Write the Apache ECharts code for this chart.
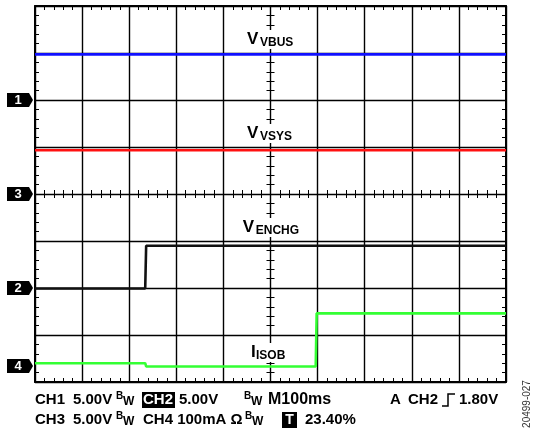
<!DOCTYPE html>
<html>
<head>
<meta charset="utf-8">
<script src="https://cdn.jsdelivr.net/npm/echarts@6/dist/echarts.min.js"></script>
<style>html,body{margin:0;padding:0;background:#fff}#c{width:534px;height:435px}</style>
</head>
<body>
<div id="c"></div>
<script>
// time axis in ms (100 ms/div, 10 divisions); vertical axis in divisions (8 divisions)
const timeTicks = [0, 100, 200, 300, 400, 500, 600, 700, 800, 900, 1000];
const divTicks = [0, 1, 2, 3, 4, 5, 6, 7, 8];
const vbusTrace = [[0, 6.97], [1000, 6.97]];
const vsysTrace = [[0, 4.93], [1000, 4.93]];
const enchgTrace = [[0, 1.99], [234, 1.99], [236, 2.90], [1000, 2.90]];
const isobTrace = [[0, 0.40], [234, 0.40], [236, 0.33], [596, 0.33], [598, 1.46], [1000, 1.46]];
const channelMarkers = [['1', 6], ['3', 4], ['2', 2], ['4', 0.34]];
const traceLabels = [['V', 'VBUS', 500, 7.30], ['V', 'VSYS', 500, 5.30], ['V', 'ENCHG', 500, 3.30], ['I', 'ISOB', 500, 0.64]];

const chart = echarts.init(document.getElementById('c'), null, {renderer: 'canvas'});
const F = 'Liberation Sans, Arial, sans-serif';
const G = {left: 35, top: 6, width: 471, height: 376};

function xAx(pos, offset, inside, isMain) {
  return {
    type: 'value', min: 0, max: 1000, interval: 100, position: pos, offset: offset,
    axisLine: {show: isMain, onZero: false, lineStyle: {color: '#000', width: 2}},
    axisTick: {show: true, inside: inside, length: 4, lineStyle: {color: '#000', width: 1}},
    minorTick: {show: true, splitNumber: 5, length: 4, lineStyle: {color: '#000', width: 1}},
    splitLine: {show: pos === 'bottom' && offset === 0, lineStyle: {color: '#000', width: 1.4}},
    axisLabel: {show: false}
  };
}
function yAx(pos, offset, inside, isMain) {
  return {
    type: 'value', min: 0, max: 8, interval: 1, position: pos, offset: offset,
    axisLine: {show: isMain, onZero: false, lineStyle: {color: '#000', width: 2}},
    axisTick: {show: true, inside: inside, length: 4, lineStyle: {color: '#000', width: 1}},
    minorTick: {show: true, splitNumber: 5, length: 4, lineStyle: {color: '#000', width: 1}},
    splitLine: {show: pos === 'left' && offset === 0, lineStyle: {color: '#000', width: 1.4}},
    axisLabel: {show: false}
  };
}

const lineSeries = (data, color) => ({
  type: 'line', data: data, showSymbol: false, animation: false,
  lineStyle: {color: color, width: 2.6}, z: 5
});

const FS = 15;
const txt = (x, y, s, size, extra) => Object.assign({
  type: 'text', x: x, y: y,
  style: {text: s, font: 'bold ' + size + 'px ' + F, fill: '#000', textVerticalAlign: 'middle'}
}, extra || {});

const graphics = [];
// bottom status text rows
const r1 = 400, r2 = 420;
function bw(x, y) {
  graphics.push(txt(x, y - 4, 'B', 10));
  graphics.push(txt(x + 7, y + 2, 'W', 12));
}
graphics.push(txt(35, r1, 'CH1', FS));
graphics.push(txt(73, r1, '5.00V', FS));
bw(116, r1);
graphics.push({type: 'rect', shape: {x: 142, y: r1 - 8, width: 33, height: 16}, style: {fill: '#000'}});
graphics.push({type: 'text', x: 143, y: r1, style: {text: 'CH2', font: 'bold ' + FS + 'px ' + F, fill: '#fff', textVerticalAlign: 'middle'}});
graphics.push(txt(179, r1, '5.00V', FS));
bw(244, r1);
graphics.push(txt(268, r1, 'M100ms', 16));
graphics.push(txt(390, r1, 'A', FS));
graphics.push(txt(408, r1, 'CH2', FS));
graphics.push({type: 'polyline', shape: {points: [[442, r1 + 6], [448, r1 + 6], [448, r1 - 6], [455, r1 - 6]]}, style: {stroke: '#000', lineWidth: 1.5, fill: null}});
graphics.push(txt(459, r1, '1.80V', FS));

graphics.push(txt(35, r2, 'CH3', FS));
graphics.push(txt(73, r2, '5.00V', FS));
bw(116, r2);
graphics.push(txt(143, r2, 'CH4 100mA Ω', FS));
bw(245, r2);
graphics.push({type: 'rect', shape: {x: 282, y: r2 - 8, width: 15, height: 16}, style: {fill: '#000'}});
graphics.push({type: 'text', x: 289.5, y: r2, style: {text: 'T', font: 'bold 14px ' + F, fill: '#fff', textAlign: 'center', textVerticalAlign: 'middle'}});
graphics.push(txt(305, r2, '23.40%', FS));

// figure id
graphics.push({type: 'text', x: 527, y: 404, rotation: Math.PI / 2,
  style: {text: '20499-027', font: '10px ' + F, fill: '#333', textAlign: 'center', textVerticalAlign: 'middle'}});

chart.setOption({
  animation: false,
  backgroundColor: '#fff',
  grid: Object.assign({containLabel: false}, G),
  xAxis: [xAx('bottom', 0, true, true), xAx('top', 0, true, true), xAx('bottom', -188, true, false), xAx('bottom', -188, false, false)],
  yAxis: [yAx('left', 0, true, true), yAx('right', 0, true, true), yAx('left', -235.5, true, false), yAx('left', -235.5, false, false)],
  series: [
    lineSeries(vbusTrace, '#1010ff'),
    lineSeries(vsysTrace, '#ff1010'),
    lineSeries(enchgTrace, '#111'),
    lineSeries(isobTrace, '#33ff33'),
    {
      type: 'custom', clip: false, z: 10, animation: false,
      data: channelMarkers.map(m => [0, m[1]]),
      renderItem: function (params, api) {
        const p = api.coord([api.value(0), api.value(1)]);
        const name = channelMarkers[params.dataIndex][0];
        return {type: 'group', children: [
          {type: 'polygon', shape: {points: [[7, p[1] - 7], [29, p[1] - 7], [33, p[1]], [29, p[1] + 7], [7, p[1] + 7]]}, style: {fill: '#000'}},
          {type: 'text', x: 18, y: p[1], style: {text: name, font: 'bold 13px ' + F, fill: '#fff', textAlign: 'center', textVerticalAlign: 'middle'}}
        ]};
      }
    },
    {
      type: 'custom', clip: false, z: 10, animation: false,
      data: traceLabels.map(l => [l[2], l[3]]),
      renderItem: function (params, api) {
        const p = api.coord([api.value(0), api.value(1)]);
        const l = traceLabels[params.dataIndex];
        const main = l[0], sub = l[1];
        const wMain = main === 'V' ? 13 : 5;
        const wSub = sub.length * 8.5;
        const x0 = p[0] - (wMain + wSub) / 2;
        return {type: 'group', children: [
          {type: 'rect', shape: {x: x0 - 1, y: p[1] - 9, width: wMain + wSub + 2, height: 19}, style: {fill: '#fff'}},
          {type: 'text', x: x0, y: p[1], style: {text: main, font: 'bold 17px ' + F, fill: '#000', textVerticalAlign: 'middle'}},
          {type: 'text', x: x0 + wMain, y: p[1] + 4, style: {text: sub, font: 'bold 12px ' + F, fill: '#000', textVerticalAlign: 'middle'}}
        ]};
      }
    }
  ],
  graphic: graphics
});
</script>
</body>
</html>
